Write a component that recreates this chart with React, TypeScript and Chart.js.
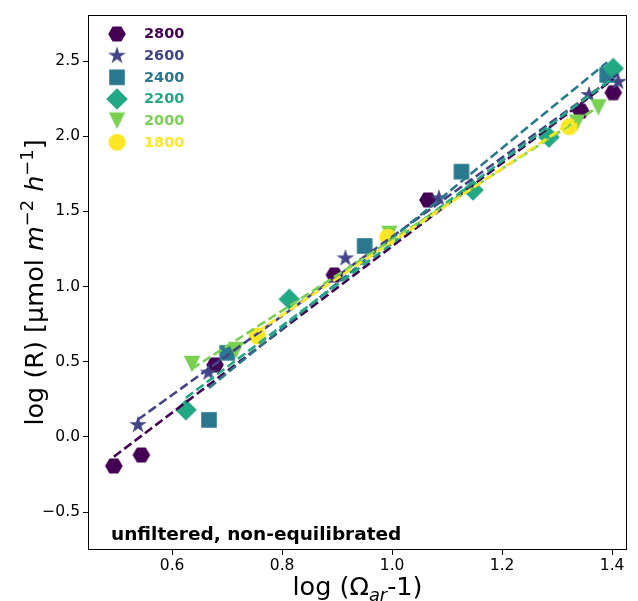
import React, { useEffect, useRef } from 'react';
import { Chart, registerables } from 'chart.js';
Chart.register(...registerables);

const seriesLabels = ['2800', '2600', '2400', '2200', '2000', '1800'];
const seriesColors = ['#440154', '#414487', '#2a788e', '#22a884', '#7ad151', '#fde725'];
const seriesShapes = ['hexagon', 'star', 'square', 'diamond', 'triangleDown', 'circle'];

const x2800 = [0.494, 0.544, 0.678, 0.895, 1.065, 1.343, 1.402];
const y2800 = [-0.193, -0.12, 0.479, 1.077, 1.576, 2.167, 2.289];
const x2600 = [0.538, 0.666, 0.915, 1.085, 1.358, 1.411];
const y2600 = [0.08, 0.428, 1.188, 1.587, 2.274, 2.362];
const x2400 = [0.667, 0.7, 0.95, 1.126, 1.391];
const y2400 = [0.113, 0.559, 1.27, 1.764, 2.407];
const x2200 = [0.625, 0.813, 1.147, 1.285, 1.402];
const y2200 = [0.18, 0.916, 1.642, 1.993, 2.451];
const x2000 = [0.636, 0.716, 0.995, 1.336, 1.375];
const y2000 = [0.485, 0.578, 1.35, 2.09, 2.192];
const x1800 = [0.755, 0.992, 1.322];
const y1800 = [0.672, 1.328, 2.063];

const seriesX = [x2800, x2600, x2400, x2200, x2000, x1800];
const seriesY = [y2800, y2600, y2400, y2200, y2000, y1800];

const xTicks = [0.6, 0.8, 1.0, 1.2, 1.4];
const yTicks = [-0.5, 0.0, 0.5, 1.0, 1.5, 2.0, 2.5];
const xRange = [0.447, 1.427];
const yRange = [-0.752, 2.806];

const annotation = 'unfiltered, non-equilibrated';
const FONT = '"DejaVu Sans", sans-serif';

function makeMarker(shape: string, color: string): HTMLCanvasElement {
  const size = 26;
  const c = document.createElement('canvas');
  c.width = size;
  c.height = size;
  const ctx = c.getContext('2d')!;
  ctx.fillStyle = color;
  const cx = size / 2;
  const cy = size / 2;
  ctx.beginPath();
  if (shape === 'hexagon') {
    const r = 8.8;
    for (let i = 0; i < 6; i++) {
      const a = (i * Math.PI) / 3;
      const px = cx + r * Math.cos(a);
      const py = cy + r * Math.sin(a);
      if (i === 0) ctx.moveTo(px, py);
      else ctx.lineTo(px, py);
    }
    ctx.closePath();
  } else if (shape === 'star') {
    const ro = 9.3;
    const ri = ro * 0.381966;
    for (let i = 0; i < 10; i++) {
      const r = i % 2 === 0 ? ro : ri;
      const a = -Math.PI / 2 + (i * Math.PI) / 5;
      const px = cx + r * Math.cos(a);
      const py = cy + r * Math.sin(a);
      if (i === 0) ctx.moveTo(px, py);
      else ctx.lineTo(px, py);
    }
    ctx.closePath();
  } else if (shape === 'square') {
    const h = 7.8;
    ctx.rect(cx - h, cy - h, 2 * h, 2 * h);
  } else if (shape === 'diamond') {
    const h = 10.8;
    ctx.moveTo(cx, cy - h);
    ctx.lineTo(cx + h, cy);
    ctx.lineTo(cx, cy + h);
    ctx.lineTo(cx - h, cy);
    ctx.closePath();
  } else if (shape === 'triangleDown') {
    const h = 8.2;
    ctx.moveTo(cx - h, cy - h);
    ctx.lineTo(cx + h, cy - h);
    ctx.lineTo(cx, cy + h);
    ctx.closePath();
  } else {
    ctx.arc(cx, cy, 8.6, 0, Math.PI * 2);
  }
  ctx.fill();
  return c;
}

function fitLine(xs: number[], ys: number[]) {
  const n = xs.length;
  const mx = xs.reduce((a, b) => a + b, 0) / n;
  const my = ys.reduce((a, b) => a + b, 0) / n;
  let sxy = 0;
  let sxx = 0;
  for (let i = 0; i < n; i++) {
    sxy += (xs[i] - mx) * (ys[i] - my);
    sxx += (xs[i] - mx) * (xs[i] - mx);
  }
  const b = sxy / sxx;
  const a = my - b * mx;
  const x0 = Math.min(...xs);
  const x1 = Math.max(...xs);
  return [
    { x: x0, y: a + b * x0 },
    { x: x1, y: a + b * x1 },
  ];
}

type Seg = { t: string; it?: boolean; s?: 'sup' | 'sub' };

function drawRich(ctx: CanvasRenderingContext2D, segs: Seg[], cx: number, cy: number, base: number, rot: boolean) {
  ctx.save();
  ctx.translate(cx, cy);
  if (rot) ctx.rotate(-Math.PI / 2);
  const fontFor = (g: Seg) => `${g.it ? 'italic ' : ''}${g.s ? base * 0.7 : base}px ${FONT}`;
  let total = 0;
  const widths: number[] = [];
  for (const g of segs) {
    ctx.font = fontFor(g);
    const w = ctx.measureText(g.t).width;
    widths.push(w);
    total += w;
  }
  let x = -total / 2;
  ctx.fillStyle = '#000';
  ctx.textBaseline = 'alphabetic';
  ctx.textAlign = 'left';
  segs.forEach((g, i) => {
    ctx.font = fontFor(g);
    const dy = g.s === 'sup' ? -base * 0.38 : g.s === 'sub' ? base * 0.22 : 0;
    ctx.fillText(g.t, x, dy);
    x += widths[i];
  });
  ctx.restore();
}

const yTitle: Seg[] = [
  { t: 'log (R) [µmol ' },
  { t: 'm', it: true },
  { t: '−2', s: 'sup' },
  { t: ' ' },
  { t: 'h', it: true },
  { t: '−1', s: 'sup' },
  { t: ']' },
];
const xTitle: Seg[] = [{ t: 'log (Ω' }, { t: 'ar', it: true, s: 'sub' }, { t: '-1)' }];

export default function App() {
  const ref = useRef<HTMLCanvasElement>(null);
  useEffect(() => {
    if (!ref.current) return;
    const markers = seriesShapes.map((s, i) => makeMarker(s, seriesColors[i]));
    const datasets: any[] = [];
    seriesLabels.forEach((lab, i) => {
      datasets.push({
        label: lab,
        data: seriesX[i].map((x, j) => ({ x, y: seriesY[i][j] })),
        pointStyle: markers[i],
        pointRadius: 9,
        showLine: false,
        order: 10 - i,
      });
    });
    seriesLabels.forEach((lab, i) => {
      datasets.push({
        label: lab + ' fit',
        data: fitLine(seriesX[i], seriesY[i]),
        showLine: true,
        borderColor: seriesColors[i],
        borderWidth: 2.6,
        borderDash: [9, 4],
        pointRadius: 0,
        fill: false,
        order: 5 - i,
      });
    });

    const overlay = {
      id: 'overlay',
      afterDraw(chart: any) {
        const ctx: CanvasRenderingContext2D = chart.ctx;
        const a = chart.chartArea;
        ctx.save();
        ctx.strokeStyle = '#000';
        ctx.lineWidth = 1;
        ctx.strokeRect(Math.round(a.left) + 0.5, Math.round(a.top) + 0.5, Math.round(a.right - a.left) - 1, Math.round(a.bottom - a.top) - 1);
        seriesLabels.forEach((lab, i) => {
          const y = 34 + i * 21.65;
          ctx.drawImage(markers[i], 117 - 13, y - 13);
          ctx.font = `bold 14.5px ${FONT}`;
          ctx.fillStyle = seriesColors[i];
          ctx.textBaseline = 'middle';
          ctx.textAlign = 'left';
          ctx.fillText(lab, 144, y + 0.5);
        });
        ctx.font = `bold 18.5px ${FONT}`;
        ctx.fillStyle = '#000';
        ctx.textBaseline = 'alphabetic';
        ctx.fillText(annotation, 111, 540);
        ctx.restore();
        drawRich(ctx, yTitle, 43, (a.top + a.bottom) / 2, 25.5, true);
        drawRich(ctx, xTitle, (a.left + a.right) / 2, 595, 25.5, false);
      },
    };

    const fmt = (v: number) => (v < 0 ? '−' + Math.abs(v).toFixed(1) : v.toFixed(1));

    const chart = new Chart(ref.current, {
      type: 'scatter',
      data: { datasets },
      options: {
        animation: false,
        responsive: false,
        events: [],
        layout: { padding: { top: 15, right: 11, left: 0, bottom: 0 } },
        plugins: { legend: { display: false }, tooltip: { enabled: false } },
        scales: {
          x: {
            type: 'linear',
            min: xRange[0],
            max: xRange[1],
            afterFit: (s: any) => {
              s.height = 51;
            },
            afterBuildTicks: (s: any) => {
              s.ticks = xTicks.map((v) => ({ value: v }));
            },
            grid: { drawOnChartArea: false, drawTicks: true, tickLength: 5, color: '#000', lineWidth: 1 },
            border: { display: false },
            ticks: {
              color: '#000',
              font: { family: FONT, size: 15.5 },
              padding: 2,
              maxRotation: 0,
              callback: (v: any) => fmt(Number(v)),
            },
          },
          y: {
            type: 'linear',
            min: yRange[0],
            max: yRange[1],
            afterFit: (s: any) => {
              s.width = 88;
            },
            afterBuildTicks: (s: any) => {
              s.ticks = yTicks.map((v) => ({ value: v }));
            },
            grid: { drawOnChartArea: false, drawTicks: true, tickLength: 5, color: '#000', lineWidth: 1 },
            border: { display: false },
            ticks: {
              color: '#000',
              font: { family: FONT, size: 15.5 },
              padding: 3,
              callback: (v: any) => fmt(Number(v)),
            },
          },
        },
      },
      plugins: [overlay],
    });
    return () => chart.destroy();
  }, []);
  return (
    <div style={{ position: 'absolute', left: 0, top: 0, width: 638, height: 601, background: '#fff' }}>
      <canvas ref={ref} width={638} height={601} />
    </div>
  );
}
